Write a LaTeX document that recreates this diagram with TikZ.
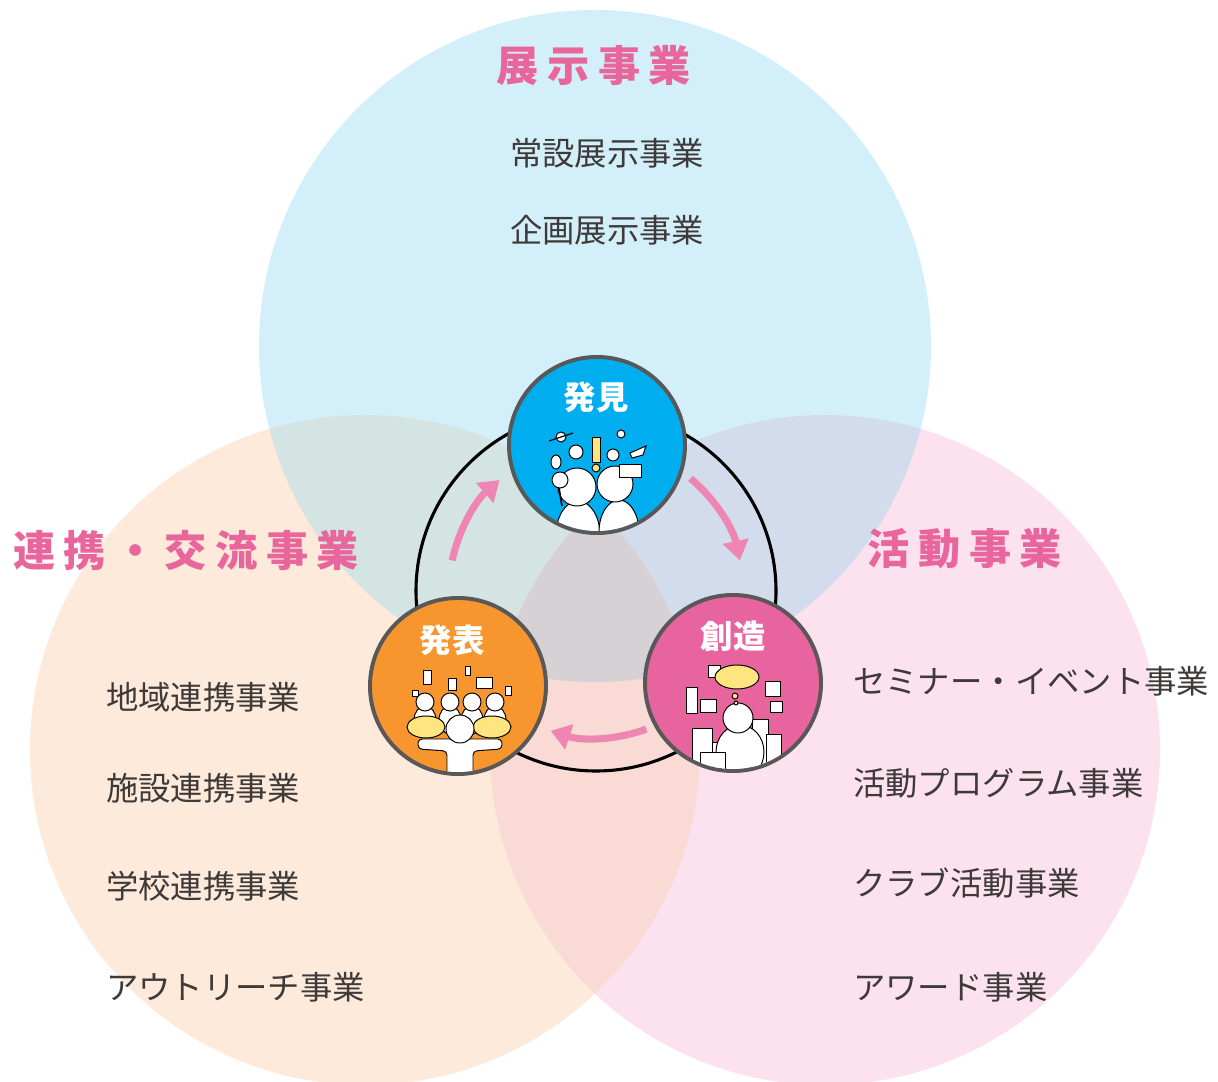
\documentclass[tikz,border=0pt]{standalone}
\usepackage{fontspec}
\newfontfamily\jp{Noto Sans CJK JP}
\usetikzlibrary{arrows.meta}

\definecolor{exhibitblue}{HTML}{D3EFFA}
\definecolor{linkorange}{HTML}{FEEADA}
\definecolor{actpink}{HTML}{FBE2EE}
\definecolor{exhibitlink}{HTML}{D4E4E2}
\definecolor{exhibitact}{HTML}{D2DCEC}
\definecolor{linkact}{HTML}{FADAD4}
\definecolor{allthree}{HTML}{D5D1D5}
\definecolor{titlepink}{HTML}{E8669C}
\definecolor{flowpink}{HTML}{EE85B3}
\definecolor{findblue}{HTML}{00AEEF}
\definecolor{makepink}{HTML}{E8649F}
\definecolor{showorange}{HTML}{F7962F}
\definecolor{rimgray}{HTML}{595757}
\definecolor{textgray}{HTML}{3E3A39}
\definecolor{ideayellow}{HTML}{FFE57F}

\tikzset{
  title/.style={font=\jp\bfseries\fontsize{30}{30}\selectfont\addfontfeature{LetterSpace=20}, text=titlepink},
  item/.style={font=\jp\fontsize{23}{23}\selectfont, text=textgray, anchor=west, inner sep=0pt},
  stage/.style={circle, draw=rimgray, line width=2.8pt, minimum size=4.4cm, inner sep=0pt},
  stagelabel/.style={font=\jp\bfseries\fontsize{23}{23}\selectfont, text=white},
  ring/.style={draw=black, line width=2.2pt},
  flow/.style={draw=flowpink, line width=5pt, -{Triangle[length=14pt, width=18pt]}},
  doodle/.style={fill=white, draw=black, line width=0.7pt}
}

\def\exhibitfield{(595,346) circle[radius=336]}
\def\linkfield{(365,750) circle[radius=335]}
\def\actfield{(825,750) circle[radius=335]}

\begin{document}
\begin{tikzpicture}[x=0.025cm, y=-0.025cm]
  \useasboundingbox (0,0) rectangle (1218,1082);
  \clip (0,0) rectangle (1218,1082);
  \fill[white] (0,0) rectangle (1218,1082);

  % three overlapping fields
  \fill[exhibitblue] \exhibitfield;
  \fill[linkorange] \linkfield;
  \fill[actpink] \actfield;
  \begin{scope}
    \clip \exhibitfield;
    \fill[exhibitlink] \linkfield;
    \fill[exhibitact] \actfield;
  \end{scope}
  \begin{scope}
    \clip \linkfield;
    \fill[linkact] \actfield;
    \clip \actfield;
    \fill[allthree] \exhibitfield;
  \end{scope}

  % field titles
  \node[title] (exhibit) at (594,66) {展示事業};
  \node[title] (link) at (186,551) {連携・交流事業};
  \node[title] (act) at (965,549) {活動事業};

  % field contents
  \node[item] (perm) at (510,153) {常設展示事業};
  \node[item] (plan) at (510,230) {企画展示事業};

  \node[item] (area) at (106,697) {地域連携事業};
  \node[item] (facility) at (106,788) {施設連携事業};
  \node[item] (school) at (106,886) {学校連携事業};
  \node[item] (outreach) at (106,987) {アウトリーチ事業};

  \node[item] (seminar) at (853,681) {セミナー・イベント事業};
  \node[item] (program) at (853,783) {活動プログラム事業};
  \node[item] (club) at (853,883) {クラブ活動事業};
  \node[item] (award) at (853,987) {アワード事業};

  % cycle
  \coordinate (hub) at (596,591);
  \draw[ring] (hub) circle[radius=180];
  \draw[flow] ([shift={(-168:147)}]hub) arc[start angle=-168, end angle=-131, radius=147];
  \draw[flow] ([shift={(-50:147)}]hub) arc[start angle=-50, end angle=-12, radius=147];
  \draw[flow] ([shift={(70:147)}]hub) arc[start angle=70, end angle=108, radius=147];

  \node[stage, fill=findblue] (find) at (597,445) {};
  \node[stage, fill=makepink] (make) at (733,683) {};
  \node[stage, fill=showorange] (show) at (458,686) {};

  % find: two lookers
  \begin{scope}
    \clip (find.center) circle[radius=86];
    \draw[doodle] (578,535) ellipse[x radius=22, y radius=34];
    \draw[doodle] (619,532) ellipse[x radius=20, y radius=32];
    \draw[doodle] (577,487) circle[radius=19];
    \draw[doodle] (615,484) circle[radius=18];
    \draw[black, line width=1.2pt] (559,488) -- (562,506);
    \draw[doodle] (560,480) circle[radius=8];
    \draw[doodle] (619,464) rectangle (641,477);
    \draw[doodle, fill=ideayellow] (592,437) rectangle (600,462);
    \draw[doodle, fill=ideayellow] (596,468) circle[radius=4];
    \draw[doodle] (561,437) circle[radius=5];
    \draw[black, line width=0.8pt] (549,441) -- (573,433);
    \draw[doodle] (576,452) circle[radius=7];
    \draw[doodle] (613,455) circle[radius=6];
    \draw[doodle] (621,434) circle[radius=4];
    \draw[doodle] (630,453) -- (646,446) -- (643,455) -- (632,458) -- cycle;
    \draw[doodle] (556,462) ellipse[x radius=5, y radius=7];
  \end{scope}
  \node[stagelabel] (findlabel) at (596,397) {発見};

  % make: builder among blocks
  \begin{scope}
    \clip (make.center) circle[radius=86];
    \draw[doodle] (686,687) rectangle (697,713);
    \draw[doodle] (700,699) rectangle (716,712);
    \draw[doodle] (765,681) rectangle (780,696);
    \draw[doodle] (770,701) rectangle (782,712);
    \draw[doodle] (708,665) rectangle (720,677);
    \draw[doodle] (692,728) rectangle (712,768);
    \draw[doodle] (712,742) rectangle (727,768);
    \draw[doodle] (752,719) rectangle (768,768);
    \draw[doodle] (766,734) rectangle (781,768);
    \draw[doodle] (740,752) ellipse[x radius=24, y radius=27];
    \draw[doodle] (738,718) circle[radius=15];
    \draw[doodle] (700,752) rectangle (725,770);
    \draw[doodle, fill=ideayellow] (737,677) ellipse[x radius=22, y radius=12];
    \draw[doodle, fill=ideayellow] (735,696) circle[radius=3];
    \draw[doodle, fill=ideayellow] (736,703) circle[radius=2];
  \end{scope}
  \node[stagelabel] (makelabel) at (733,636) {創造};

  % show: speaker and listeners
  \begin{scope}
    \clip (show.center) circle[radius=86];
    \draw[doodle] (423,670) rectangle (431,684);
    \draw[doodle] (448,678) rectangle (456,690);
    \draw[doodle] (476,677) rectangle (492,688);
    \draw[doodle] (465,666) rectangle (470,675);
    \draw[doodle] (505,686) rectangle (511,695);
    \draw[doodle] (412,690) rectangle (418,696);
    \foreach \px in {425,450,472,495} {
      \draw[doodle] (\px,720) ellipse[x radius=11, y radius=14];
      \draw[doodle] (\px,702) circle[radius=9];
    }
    \draw[doodle, fill=ideayellow] (426,727) ellipse[x radius=19, y radius=11];
    \draw[doodle, fill=ideayellow] (492,727) ellipse[x radius=19, y radius=11];
    \draw[doodle, rounded corners=3pt] (418,739) -- (502,739) -- (502,749) -- (473,751) -- (473,790) -- (447,790) -- (447,751) -- (418,749) -- cycle;
    \draw[doodle] (460,729) circle[radius=14];
  \end{scope}
  \node[stagelabel] (showlabel) at (452,640) {発表};
\end{tikzpicture}
\end{document}
